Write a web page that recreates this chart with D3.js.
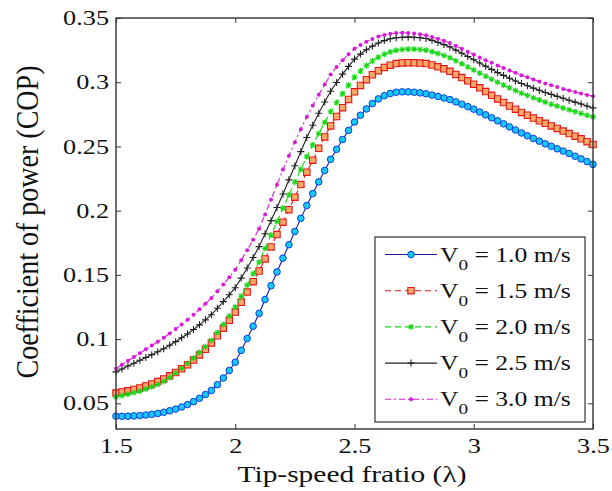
<!DOCTYPE html>
<html>
<head>
<meta charset="utf-8">
<script src="https://cdn.jsdelivr.net/npm/d3@7"></script>
<style>
  body { margin: 0; background: #fff; }
  svg { display: block; }
  text { font-family: "Liberation Serif", "Times New Roman", serif; fill: #111; }
</style>
</head>
<body>
<div id="chart"></div>
<script>
// tip-speed ratio samples
const tsr = [1.5, 1.525, 1.55, 1.575, 1.6, 1.625, 1.65, 1.675, 1.7, 1.725, 1.75, 1.775, 1.8, 1.825, 1.85, 1.875,
  1.9, 1.925, 1.95, 1.975, 2.0, 2.025, 2.05, 2.075, 2.1, 2.125, 2.15, 2.175, 2.2, 2.225, 2.25, 2.275,
  2.3, 2.325, 2.35, 2.375, 2.4, 2.425, 2.45, 2.475, 2.5, 2.525, 2.55, 2.575, 2.6, 2.625, 2.65, 2.675,
  2.7, 2.725, 2.75, 2.775, 2.8, 2.825, 2.85, 2.875, 2.9, 2.925, 2.95, 2.975, 3.0, 3.025, 3.05, 3.075,
  3.1, 3.125, 3.15, 3.175, 3.2, 3.225, 3.25, 3.275, 3.3, 3.325, 3.35, 3.375, 3.4, 3.425, 3.45, 3.475, 3.5];

// COP, V0 = 1.0 m/s
const cop10 = [.0400, .0399, .0400, .0402, .0405, .0409, .0414, .0421, .0430, .0442, .0455, .0471, .0490, .0513, .0539, .0568,
  .0600, .0645, .0697, .0756, .0820, .0912, .1005, .1100, .1200, .1308, .1415, .1523, .1630, .1735, .1838, .1940,
  .2040, .2133, .2224, .2313, .2400, .2478, .2554, .2625, .2690, .2743, .2792, .2834, .2870, .2895, .2912, .2922,
  .2925, .2925, .2922, .2917, .2910, .2900, .2889, .2877, .2865, .2847, .2829, .2810, .2790, .2768, .2746, .2723,
  .2700, .2676, .2652, .2628, .2605, .2583, .2562, .2541, .2520, .2501, .2482, .2464, .2445, .2424, .2403, .2382, .2360];
// COP, V0 = 1.5 m/s
const cop15 = [.0580, .0588, .0597, .0608, .0620, .0635, .0651, .0669, .0690, .0714, .0740, .0769, .0800, .0837, .0877, .0921,
  .0970, .1026, .1085, .1146, .1210, .1287, .1366, .1447, .1530, .1624, .1718, .1814, .1910, .2008, .2105, .2203,
  .2300, .2393, .2485, .2574, .2660, .2733, .2802, .2866, .2925, .2975, .3020, .3058, .3090, .3115, .3133, .3145,
  .3150, .3152, .3151, .3149, .3145, .3134, .3120, .3104, .3085, .3061, .3036, .3011, .2985, .2956, .2927, .2898,
  .2870, .2842, .2815, .2790, .2765, .2743, .2721, .2700, .2680, .2660, .2640, .2620, .2600, .2580, .2559, .2537, .2515];
// COP, V0 = 2.0 m/s
const cop20 = [.0550, .0560, .0571, .0583, .0595, .0611, .0629, .0648, .0670, .0701, .0736, .0772, .0810, .0852, .0896, .0942,
  .0990, .1050, .1113, .1180, .1250, .1334, .1420, .1509, .1600, .1705, .1810, .1915, .2020, .2122, .2223, .2322,
  .2420, .2512, .2601, .2687, .2770, .2842, .2911, .2977, .3040, .3087, .3129, .3165, .3195, .3218, .3236, .3248,
  .3255, .3258, .3258, .3255, .3250, .3238, .3224, .3208, .3190, .3167, .3143, .3119, .3095, .3071, .3047, .3023,
  .3000, .2978, .2956, .2935, .2915, .2897, .2879, .2862, .2845, .2829, .2814, .2799, .2785, .2771, .2757, .2743, .2730];
// COP, V0 = 2.5 m/s
const cop25 = [.0745, .0767, .0790, .0812, .0835, .0857, .0879, .0902, .0925, .0952, .0980, .1010, .1040, .1075, .1111, .1150,
  .1190, .1240, .1292, .1345, .1400, .1475, .1553, .1635, .1720, .1820, .1922, .2025, .2130, .2240, .2350, .2460,
  .2570, .2665, .2758, .2846, .2930, .2998, .3063, .3123, .3180, .3219, .3253, .3281, .3305, .3324, .3338, .3346,
  .3350, .3351, .3350, .3346, .3340, .3326, .3310, .3293, .3275, .3250, .3225, .3200, .3175, .3150, .3125, .3100,
  .3075, .3053, .3031, .3010, .2990, .2972, .2954, .2937, .2920, .2905, .2890, .2875, .2860, .2845, .2830, .2815, .2800];
// COP, V0 = 3.0 m/s
const cop30 = [.0770, .0801, .0831, .0861, .0890, .0920, .0950, .0980, .1010, .1044, .1078, .1113, .1150, .1190, .1232, .1275,
  .1320, .1372, .1425, .1481, .1540, .1614, .1692, .1774, .1860, .1970, .2085, .2202, .2320, .2428, .2533, .2634,
  .2730, .2819, .2902, .2982, .3060, .3118, .3171, .3218, .3260, .3290, .3316, .3337, .3355, .3368, .3377, .3383,
  .3385, .3384, .3380, .3373, .3365, .3352, .3338, .3322, .3305, .3283, .3260, .3237, .3215, .3193, .3172, .3151,
  .3130, .3111, .3092, .3073, .3055, .3038, .3022, .3006, .2990, .2976, .2962, .2948, .2935, .2923, .2912, .2901, .2890];

const speeds = ['1.0', '1.5', '2.0', '2.5', '3.0'];
const xTicks = [1.5, 2, 2.5, 3, 3.5];
const xTickLabels = ['1.5', '2', '2.5', '3', '3.5'];
const yTicks = [0.05, 0.1, 0.15, 0.2, 0.25, 0.3, 0.35];
const yTickLabels = ['0.05', '0.1', '0.15', '0.2', '0.25', '0.3', '0.35'];

const W = 612, H = 491;
const margin = {left: 116, top: 18, right: 19, bottom: 62};
const SX = 1.28;  // the source picture is stretched sideways

const svg = d3.select('#chart').append('svg').attr('width', W).attr('height', H);

const x = d3.scaleLinear().domain([1.5, 3.5]).range([margin.left, W - margin.right]);
const y = d3.scaleLinear().domain([0.03, 0.35]).range([H - margin.bottom, margin.top]);

const styles = [
  {data: cop10, line: '#1a1aa0', dash: null, marker: 'circle', stroke: '#0a3ce6', fill: '#18c8f2'},
  {data: cop15, line: '#e01818', dash: '6,4', marker: 'square', stroke: '#e01818', fill: '#f8a868'},
  {data: cop20, line: '#18d018', dash: '6,4', marker: 'star', stroke: '#18d818', fill: 'none'},
  {data: cop25, line: '#222', dash: null, marker: 'plus', stroke: '#222', fill: 'none'},
  {data: cop30, line: '#d81ad8', dash: '6,3,2,3', marker: 'dot', stroke: '#d81ad8', fill: '#d81ad8'},
];

function markerPath(kind) {
  if (kind === 'square') return 'M-3.2,-3.2H3.2V3.2H-3.2Z';
  if (kind === 'plus') return 'M-3.5,0H3.5M0,-3.5V3.5';
  if (kind === 'star') return 'M-3,0H3M0,-3V3M-2.2,-2.2L2.2,2.2M-2.2,2.2L2.2,-2.2';
  return null;
}

function drawMarker(g, kind, s, cx, cy) {
  if (kind === 'circle') {
    g.append('circle').attr('cx', cx).attr('cy', cy).attr('r', 3.3)
        .attr('fill', s.fill).attr('stroke', s.stroke).attr('stroke-width', 1);
  } else if (kind === 'dot') {
    g.append('circle').attr('cx', cx).attr('cy', cy).attr('r', 2)
        .attr('fill', s.fill);
  } else {
    g.append('path').attr('d', markerPath(kind))
        .attr('transform', `translate(${cx},${cy})`)
        .attr('fill', s.fill).attr('stroke', s.stroke).attr('stroke-width', 1.1);
  }
}

// axes with inward ticks
const xAxis = svg.append('g').attr('transform', `translate(0,${H - margin.bottom})`)
    .call(d3.axisBottom(x).tickValues(xTicks).tickFormat((d, i) => xTickLabels[i])
        .tickSizeInner(-5).tickSizeOuter(0).tickPadding(9));
const yAxis = svg.append('g').attr('transform', `translate(${margin.left},0)`)
    .call(d3.axisLeft(y).tickValues(yTicks).tickFormat((d, i) => yTickLabels[i])
        .tickSizeInner(-5).tickSizeOuter(0).tickPadding(7));
svg.append('g').attr('transform', `translate(0,${margin.top})`)
    .call(d3.axisTop(x).tickValues(xTicks).tickFormat('').tickSizeInner(-5).tickSizeOuter(0));
svg.append('g').attr('transform', `translate(${W - margin.right},0)`)
    .call(d3.axisRight(y).tickValues(yTicks).tickFormat('').tickSizeInner(-5).tickSizeOuter(0));

svg.selectAll('.domain').remove();
svg.selectAll('.tick line').attr('stroke', '#333');
[xAxis, yAxis].forEach(a => a.selectAll('text')
    .attr('font-size', 20.5).attr('fill', '#111')
    .attr('font-family', '"Liberation Serif", serif'));
yAxis.selectAll('text').each(function() {
  const t = d3.select(this);
  t.attr('x', +t.attr('x') / SX).attr('transform', `scale(${SX},1)`);
});
xAxis.selectAll('text').attr('transform', `scale(${SX},1)`);

// curves
const line = d3.line().x((d, i) => x(tsr[i])).y(d => y(d));
styles.forEach(s => {
  svg.append('path').datum(s.data).attr('d', line)
      .attr('fill', 'none').attr('stroke', s.line).attr('stroke-width', 1.1)
      .attr('stroke-dasharray', s.dash);
  const g = svg.append('g');
  s.data.forEach((v, i) => drawMarker(g, s.marker, s, x(tsr[i]), y(v)));
});

// frame
svg.append('rect')
    .attr('x', margin.left).attr('y', margin.top)
    .attr('width', W - margin.left - margin.right)
    .attr('height', H - margin.top - margin.bottom)
    .attr('fill', 'none').attr('stroke', '#333').attr('stroke-width', 1.4);

// axis titles
svg.append('g').attr('transform', `translate(352,482) scale(${SX},1)`)
    .append('text').attr('text-anchor', 'middle').attr('font-size', 23)
    .text('Tip-speed fratio (\u03bb)');
svg.append('g').attr('transform', `translate(38,222) scale(${SX},1) rotate(-90)`)
    .append('text').attr('text-anchor', 'middle').attr('font-size', 24)
    .attr('textLength', 313).attr('lengthAdjust', 'spacingAndGlyphs')
    .text('Coefficient of power (COP)');

// legend
const lg = svg.append('g');
lg.append('rect').attr('x', 375).attr('y', 237).attr('width', 210).attr('height', 185)
    .attr('fill', '#fff').attr('stroke', '#333').attr('stroke-width', 1.2);
styles.forEach((s, i) => {
  const cy = 254.5 + i * 36.2;
  lg.append('line').attr('x1', 385).attr('x2', 437).attr('y1', cy).attr('y2', cy)
      .attr('stroke', s.line).attr('stroke-width', 1.1).attr('stroke-dasharray', s.dash);
  drawMarker(lg, s.marker, s, 411, cy);
  const t = lg.append('g').attr('transform', `translate(440,${cy + 7}) scale(${SX},1)`)
      .append('text').attr('font-size', 20);
  t.append('tspan').text('V');
  t.append('tspan').attr('font-size', 15).attr('dy', 8).text('0');
  t.append('tspan').attr('dy', -8).text(` = ${speeds[i]} m/s`);
});
</script>
</body>
</html>
